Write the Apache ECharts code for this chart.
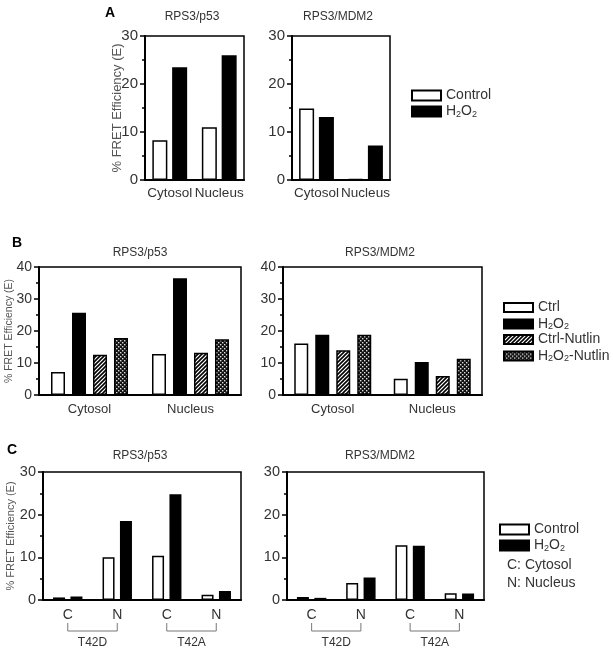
<!DOCTYPE html>
<html>
<head>
<meta charset="utf-8">
<script src="https://cdn.jsdelivr.net/npm/echarts@6/dist/echarts.min.js"></script>
<style>
html,body{margin:0;padding:0;background:#fff;}
#main{width:613px;height:655px;}
</style>
</head>
<body>
<div id="main"></div>
<script>
// ---------- DATA ----------
const categoriesAB = ['Cytosol', 'Nucleus'];
const categoriesC = ['C', 'N', 'C', 'N'];
const mutantGroupsC = ['T42D', 'T42A'];
const panelTitles = ['RPS3/p53', 'RPS3/MDM2'];
const yAxisTitle = '% FRET Efficiency (E)';

// Panel A
const aP53Control = [8.3, 11.0];
const aP53H2O2 = [23.5, 26.0];
const aMdm2Control = [14.9, 0.2];
const aMdm2H2O2 = [13.1, 7.2];

// Panel B
const bP53Ctrl = [7.2, 12.8];
const bP53H2O2 = [25.7, 36.5];
const bP53CtrlNutlin = [12.6, 13.2];
const bP53H2O2Nutlin = [17.8, 17.4];
const bMdm2Ctrl = [16.1, 5.1];
const bMdm2H2O2 = [18.8, 10.3];
const bMdm2CtrlNutlin = [14.0, 5.9];
const bMdm2H2O2Nutlin = [18.8, 11.3];

// Panel C
const cP53Control = [0.6, 10.0, 10.35, 1.25];
const cP53H2O2 = [0.8, 18.5, 24.8, 2.1];
const cMdm2Control = [0.7, 4.0, 12.85, 1.6];
const cMdm2H2O2 = [0.5, 5.3, 12.7, 1.5];

// ---------- STYLE ----------
const FONT = '"Liberation Sans", Arial, sans-serif';
const TXT = '#333';

function hatchPattern() {
  const c = document.createElement('canvas');
  c.width = 4; c.height = 4;
  const g = c.getContext('2d');
  g.fillStyle = '#fff'; g.fillRect(0, 0, 4, 4);
  g.strokeStyle = '#000'; g.lineWidth = 1.6;
  g.beginPath();
  g.moveTo(-1, 5); g.lineTo(5, -1);
  g.moveTo(-1, 1); g.lineTo(1, -1);
  g.moveTo(3, 5); g.lineTo(5, 3);
  g.stroke();
  return { image: c, repeat: 'repeat' };
}
function dotPattern() {
  const c = document.createElement('canvas');
  c.width = 4; c.height = 4;
  const g = c.getContext('2d');
  g.fillStyle = '#111'; g.fillRect(0, 0, 4, 4);
  g.fillStyle = '#ddd';
  g.fillRect(0, 0, 1.4, 1.4);
  g.fillRect(2, 2, 1.4, 1.4);
  return { image: c, repeat: 'repeat' };
}
const HATCH = hatchPattern();
const DOTS = dotPattern();

const grids = [
  { left: 145, top: 36, width: 99, height: 144 },
  { left: 292, top: 36, width: 98, height: 144 },
  { left: 39, top: 267, width: 202, height: 128 },
  { left: 283, top: 267, width: 199, height: 128 },
  { left: 43, top: 472, width: 198, height: 128 },
  { left: 287, top: 472, width: 197, height: 128 }
].map(g => Object.assign({ show: true, borderColor: '#000', borderWidth: 1.5, backgroundColor: 'transparent' }, g));

const yMax = [30, 30, 40, 40, 30, 30];
const yFont = [15, 15, 14, 14, 14.5, 14.5];
const nameFont = [13, 13, 10.5, 10.5, 11, 11];
const nameGaps = [21, 21, 24, 24, 27, 27];

const yAxes = grids.map((g, i) => ({
  gridIndex: i, type: 'value', min: 0, max: yMax[i], interval: 10,
  splitLine: { show: false },
  axisLine: { show: true, lineStyle: { color: '#000', width: 2 } },
  axisTick: { show: true, length: 5, lineStyle: { color: '#000', width: 1.5 } },
  minorTick: { show: true, splitNumber: 2, length: 3, lineStyle: { color: '#000', width: 1.5 } },
  axisLabel: { fontFamily: FONT, fontSize: yFont[i], color: TXT, margin: 7 },
  name: i % 2 === 0 ? yAxisTitle : '',
  nameLocation: 'middle', nameGap: nameGaps[i], nameMoveOverlap: false,
  nameTextStyle: { fontFamily: FONT, fontSize: nameFont[i], color: '#555' }
}));

const xAxes = grids.map((g, i) => ({
  gridIndex: i, type: 'category',
  data: i < 4 ? categoriesAB : categoriesC,
  axisLine: { show: true, lineStyle: { color: '#000', width: 2 } },
  axisTick: { show: false },
  axisLabel: { fontFamily: FONT, fontSize: i < 2 ? 13.5 : (i < 4 ? 13 : 14), color: TXT, margin: i < 2 ? 6 : 8, interval: 0 }
}));

const barWidths = [15, 15, 14, 14, 12, 12];
const barGaps = ['32%', '32%', '50%', '50%', '45%', '45%'];

function bar(name, data, gi, fill) {
  return {
    type: 'bar', name: name, data: data,
    xAxisIndex: gi, yAxisIndex: gi,
    barWidth: barWidths[gi], barGap: barGaps[gi],
    itemStyle: { color: fill, borderColor: '#000', borderWidth: 1.5 },
    emphasis: { disabled: true },
    animation: false
  };
}

const series = [
  bar('Control', aP53Control, 0, '#fff'),
  bar('H2O2', aP53H2O2, 0, '#000'),
  bar('Control', aMdm2Control, 1, '#fff'),
  bar('H2O2', aMdm2H2O2, 1, '#000'),
  bar('Ctrl', bP53Ctrl, 2, '#fff'),
  bar('H2O2', bP53H2O2, 2, '#000'),
  bar('Ctrl-Nutlin', bP53CtrlNutlin, 2, HATCH),
  bar('H2O2-Nutlin', bP53H2O2Nutlin, 2, DOTS),
  bar('Ctrl', bMdm2Ctrl, 3, '#fff'),
  bar('H2O2', bMdm2H2O2, 3, '#000'),
  bar('Ctrl-Nutlin', bMdm2CtrlNutlin, 3, HATCH),
  bar('H2O2-Nutlin', bMdm2H2O2Nutlin, 3, DOTS),
  bar('Control', cP53Control, 4, '#fff'),
  bar('H2O2', cP53H2O2, 4, '#000'),
  bar('Control', cMdm2Control, 5, '#fff'),
  bar('H2O2', cMdm2H2O2, 5, '#000')
];

function legendFormatter(name) {
  return name.replace(/H2O2/g, 'H{s|2}O{s|2}');
}
function legend(data, left, top, itemHeight, gap) {
  return {
    data: data, orient: 'vertical', left: left, top: top,
    itemWidth: 29, itemHeight: itemHeight, itemGap: gap, icon: 'rect',
    selectedMode: false, padding: 0,
    formatter: legendFormatter,
    textStyle: {
      fontFamily: FONT, fontSize: 14, color: TXT, lineHeight: 15,
      rich: { s: { fontFamily: FONT, fontSize: 9, color: TXT, lineHeight: 9, verticalAlign: 'bottom', padding: [7, 0, 0, 0] } }
    }
  };
}

const titlePos = [[192, 17], [338, 17], [140, 253], [380, 253], [140, 456], [380, 456]];
const graphics = [];
titlePos.forEach((p, i) => {
  graphics.push({ type: 'text', x: p[0], y: p[1], style: { text: panelTitles[i % 2], font: '12px ' + FONT, fill: TXT, textAlign: 'center', textVerticalAlign: 'middle' } });
});
[['A', 110, 13], ['B', 17, 243], ['C', 12, 450]].forEach(l => {
  graphics.push({ type: 'text', x: l[1], y: l[2], style: { text: l[0], font: 'bold 14px ' + FONT, fill: '#000', textAlign: 'center', textVerticalAlign: 'middle' } });
});
graphics.push({ type: 'text', x: 507, y: 565, style: { text: 'C: Cytosol', font: '14px ' + FONT, fill: TXT, textVerticalAlign: 'middle' } });
graphics.push({ type: 'text', x: 507, y: 583, style: { text: 'N: Nucleus', font: '14px ' + FONT, fill: TXT, textVerticalAlign: 'middle' } });

const chart = echarts.init(document.getElementById('main'), null, { renderer: 'canvas' });
const option = {
  animation: false,
  backgroundColor: '#fff',
  grid: grids,
  xAxis: xAxes,
  yAxis: yAxes,
  legend: [
    legend(['Control', 'H2O2'], 411, 88, 10, 0),
    legend(['Ctrl', 'H2O2', 'Ctrl-Nutlin', 'H2O2-Nutlin'], 503, 300, 9, 0.5),
    legend(['Control', 'H2O2'], 499, 522, 10, 0)
  ],
  series: series,
  graphic: graphics
};
chart.setOption(option);

// Brackets below panel C, positioned from the category axis scale
const extra = [];
[4, 5].forEach(ai => {
  const gBottom = grids[ai].top + grids[ai].height;
  mutantGroupsC.forEach((gname, gi) => {
    const x1 = chart.convertToPixel({ xAxisIndex: ai }, gi * 2);
    const x2 = chart.convertToPixel({ xAxisIndex: ai }, gi * 2 + 1);
    extra.push({ type: 'polyline', shape: { points: [[x1, gBottom + 23], [x1, gBottom + 31], [x2, gBottom + 31], [x2, gBottom + 23]] }, style: { stroke: '#777', lineWidth: 1, fill: null } });
    extra.push({ type: 'text', x: (x1 + x2) / 2, y: gBottom + 43, style: { text: gname, font: '12px ' + FONT, fill: TXT, textAlign: 'center', textVerticalAlign: 'middle' } });
  });
});
chart.setOption({ graphic: graphics.concat(extra) });
</script>
</body>
</html>
